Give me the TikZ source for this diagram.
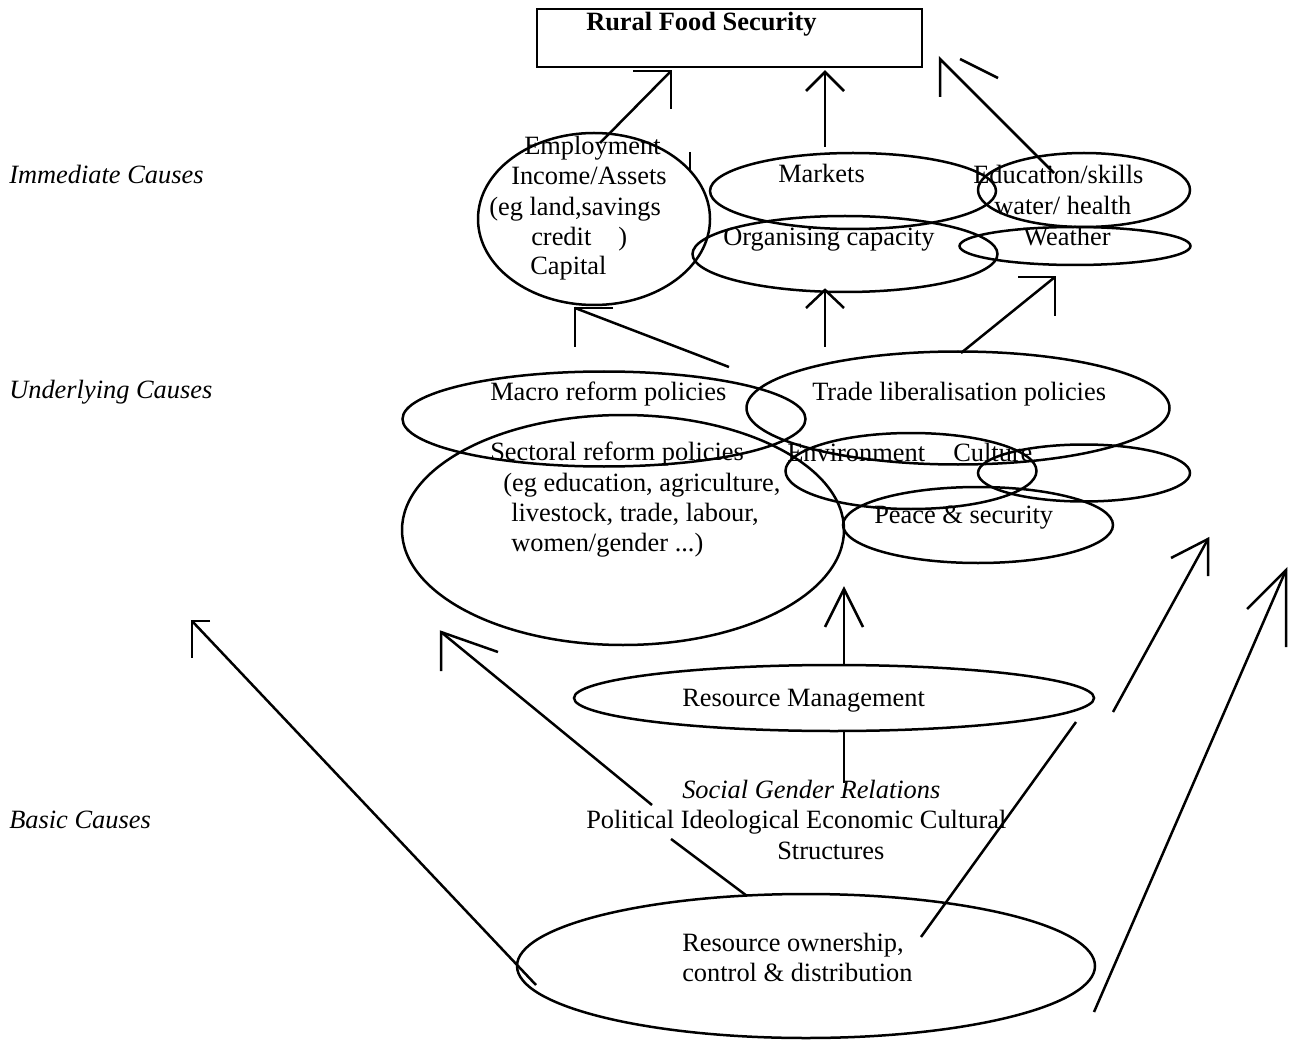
\documentclass[tikz,border=0pt]{standalone}
\usepackage{fontspec}
\setmainfont{Liberation Serif}
\usetikzlibrary{shapes.geometric}
\begin{document}
\begin{tikzpicture}[x=1pt,y=-1pt,
  line width=2.5pt, line join=miter,
  oval/.style={draw, ellipse, inner sep=0pt, outer sep=0pt},
  lbl/.style={anchor=base west, inner sep=0pt, font=\fontsize{26.4}{31}\selectfont},
  con/.style={line width=2.5pt},
]
\useasboundingbox (0,0) rectangle (1298,1048);
% ---- top box
\node[draw, rectangle, inner sep=0pt, minimum width=385pt, minimum height=58pt] (box) at (729.5,38) {};
\node[lbl, font=\fontsize{26.4}{31}\selectfont\bfseries] (t0) at (585,31) {Rural Food Security};
% ---- side labels
\node[lbl, font=\fontsize{26.4}{31}\selectfont\itshape] (imm) at (8,184) {Immediate Causes};
\node[lbl, font=\fontsize{26.4}{31}\selectfont\itshape] (und) at (8,399) {Underlying Causes};
\node[lbl, font=\fontsize{26.4}{31}\selectfont\itshape] (bas) at (8,828) {Basic Causes};
% ---- coordinates for connectors
\coordinate (a1tip) at (671,71); \coordinate (a1w1) at (633,71); \coordinate (a1w2) at (671,109); \coordinate (a1tail) at (600,143);
\coordinate (tk1) at (690,152); \coordinate (tk2) at (690,172);
\coordinate (a2tip) at (825,72); \coordinate (a2w1) at (806,91); \coordinate (a2w2) at (844,91); \coordinate (a2tail) at (825,147);
\coordinate (a3tip) at (940,59); \coordinate (a3w2) at (940,97); \coordinate (a3tail) at (1054,173); \coordinate (a3d1) at (960,59); \coordinate (a3d2) at (998,78);
\coordinate (a4tip) at (575,308); \coordinate (a4w1) at (613,308); \coordinate (a4w2) at (575,347); \coordinate (a4tail) at (729,367);
\coordinate (a5tip) at (825,290); \coordinate (a5w1) at (806,308); \coordinate (a5w2) at (844,308); \coordinate (a5tail) at (825,347);
\coordinate (a6tip) at (1055,277); \coordinate (a6w1) at (1018,277); \coordinate (a6w2) at (1055,316); \coordinate (a6tail) at (961,353);
\coordinate (a7tip) at (844,589); \coordinate (a7w1) at (825,627); \coordinate (a7w2) at (863,627); \coordinate (a7tail) at (844,783);
\coordinate (a8tip) at (441,632); \coordinate (a8w1) at (498,652); \coordinate (a8w2) at (441,671); \coordinate (a8tail) at (652,805);
\coordinate (a8s1) at (671,839); \coordinate (a8s2) at (747,896);
\coordinate (a9tip) at (192,621); \coordinate (a9w1) at (210,621); \coordinate (a9w2) at (192,658); \coordinate (a9tail) at (536,985);
\coordinate (a10tip) at (1208,539); \coordinate (a10w1) at (1171,558); \coordinate (a10w2) at (1208,576); \coordinate (a10tail) at (1113,712);
\coordinate (a10s1) at (1076,722); \coordinate (a10s2) at (921,937);
\coordinate (a11tip) at (1286,570); \coordinate (a11w1) at (1247,609); \coordinate (a11w2) at (1286,647); \coordinate (a11tail) at (1094,1012);
% ---- vertical line behind resource management
\draw[con] (a7tail) -- (a7tip);
\draw[con] (a7w1) -- (a7tip) -- (a7w2);
% ---- ellipses
\node[oval, minimum width=232pt, minimum height=172pt] (emp) at (594,219) {};
\node[oval, minimum width=286pt, minimum height=76pt] (mkt) at (853,191) {};
\node[oval, minimum width=305pt, minimum height=76pt] (org) at (845,254) {};
\node[oval, minimum width=212pt, minimum height=74pt] (edu) at (1084,190) {};
\node[oval, minimum width=231pt, minimum height=38pt] (wea) at (1075,246) {};
\node[oval, minimum width=403pt, minimum height=95pt] (mac) at (604,419) {};
\node[oval, minimum width=423pt, minimum height=113pt] (tra) at (958,408) {};
\node[oval, minimum width=442pt, minimum height=230pt] (sec) at (623,530) {};
\node[oval, minimum width=251pt, minimum height=76pt] (env) at (911,471) {};
\node[oval, minimum width=212pt, minimum height=57pt] (cul) at (1084,473) {};
\node[oval, minimum width=270pt, minimum height=76pt] (pea) at (978,525) {};
\node[oval, fill=white, minimum width=520pt, minimum height=66pt] (rm) at (834,698) {};
\node[oval, minimum width=578pt, minimum height=144pt] (own) at (806,966) {};
% ---- texts
\node[lbl] at (523,155) {Employment};
\node[lbl] at (510,185) {Income/Assets};
\node[lbl] at (488,216) {(eg land,savings};
\node[lbl] at (530,246) {credit\hspace{27pt})};
\node[lbl] at (529,275) {Capital};
\node[lbl] at (777,183) {Markets};
\node[lbl] at (972,184) {Education/skills};
\node[lbl] at (993,215) {water/ health};
\node[lbl] at (722,246) {Organising capacity};
\node[lbl] at (1022,246) {Weather};
\node[lbl] at (489,400) {Macro reform policies};
\node[lbl] at (811,400) {Trade liberalisation policies};
\node[lbl] at (489,460) {Sectoral reform policies};
\node[lbl] at (502,491) {(eg education, agriculture,};
\node[lbl] at (510,521) {livestock, trade, labour,};
\node[lbl] at (510,551) {women/gender ...)};
\node[lbl] at (786,461) {Environment};
\node[lbl] at (952,461) {Culture};
\node[lbl] at (873,523) {Peace \& security};
\node[lbl] at (681,706) {Resource Management};
\node[lbl, font=\fontsize{26.4}{31}\selectfont\itshape] at (681,798) {Social Gender Relations};
\node[lbl] at (585,828) {Political Ideological Economic Cultural};
\node[lbl] at (776,859) {Structures};
\node[lbl] at (681,951) {Resource ownership,};
\node[lbl] at (681,981) {control \& distribution};
% ---- connectors
\draw[con] (a1tail) -- (a1tip); \draw[con] (a1w1) -- (a1tip) -- (a1w2);
\draw[con] (tk1) -- (tk2);
\draw[con] (a2tail) -- (a2tip); \draw[con] (a2w1) -- (a2tip) -- (a2w2);
\draw[con] (a3tail) -- (a3tip) -- (a3w2); \draw[con] (a3d1) -- (a3d2);
\draw[con] (a4tail) -- (a4tip); \draw[con] (a4w1) -- (a4tip) -- (a4w2);
\draw[con] (a5tail) -- (a5tip); \draw[con] (a5w1) -- (a5tip) -- (a5w2);
\draw[con] (a6tail) -- (a6tip); \draw[con] (a6w1) -- (a6tip) -- (a6w2);
\draw[con] (a8tail) -- (a8tip); \draw[con] (a8w1) -- (a8tip) -- (a8w2);
\draw[con] (a8s1) -- (a8s2);
\draw[con] (a9tail) -- (a9tip); \draw[con] (a9w1) -- (a9tip) -- (a9w2);
\draw[con] (a10tail) -- (a10tip); \draw[con] (a10w1) -- (a10tip) -- (a10w2);
\draw[con] (a10s1) -- (a10s2);
\draw[con] (a11tail) -- (a11tip); \draw[con] (a11w1) -- (a11tip) -- (a11w2);
\end{tikzpicture}
\end{document}
